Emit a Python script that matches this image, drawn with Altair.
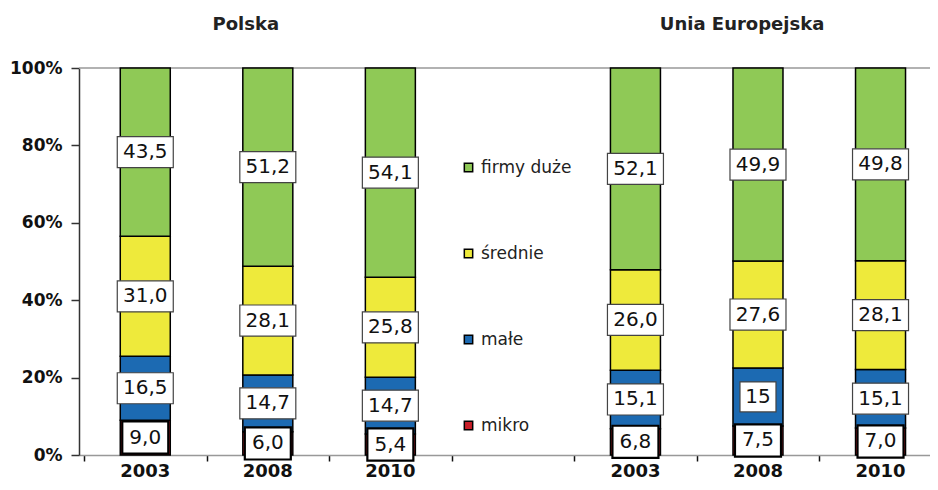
import altair as alt
import pandas as pd

# x slots (slot index 3 is an empty gap where the legend sits)
bar_slot_index = [0, 1, 2, 4, 5, 6]
year_labels = ["2003", "2008", "2010", "2003", "2008", "2010"]
categories = ["mikro", "małe", "średnie", "firmy duże"]          # bottom -> top
legend_order = ["firmy duże", "średnie", "małe", "mikro"]
colors = ["#8FC956", "#EEEA3B", "#1C6AB2", "#C81E28"]              # in legend_order

mikro = [9.0, 6.0, 5.4, 6.8, 7.5, 7.0]
male = [16.5, 14.7, 14.7, 15.1, 15.0, 15.1]
srednie = [31.0, 28.1, 25.8, 26.0, 27.6, 28.1]
duze = [43.5, 51.2, 54.1, 52.1, 49.9, 49.8]

mikro_txt = ["9,0", "6,0", "5,4", "6,8", "7,5", "7,0"]
male_txt = ["16,5", "14,7", "14,7", "15,1", "15", "15,1"]
srednie_txt = ["31,0", "28,1", "25,8", "26,0", "27,6", "28,1"]
duze_txt = ["43,5", "51,2", "54,1", "52,1", "49,9", "49,8"]

group_titles = ["Polska", "Unia Europejska"]

values = [mikro, male, srednie, duze]
texts = [mikro_txt, male_txt, srednie_txt, duze_txt]

rows = []
for i, s in enumerate(bar_slot_index):
    base = 0.0
    for k, cat in enumerate(categories):
        v = values[k][i]
        rows.append({"pos": s + 0.5, "cat": cat, "ord": k, "value": v,
                     "lo": base, "hi": base + v, "mid": base + v / 2,
                     "label": texts[k][i]})
        base += v
df = pd.DataFrame(rows)
years_df = pd.DataFrame({"pos": [s + 0.5 for s in bar_slot_index], "year": year_labels})
titles_df = pd.DataFrame({"pos": [1.32, 5.37], "t": group_titles})

W, H = 851, 387
SLOT_PX = 124
xscale = alt.Scale(domain=[0, W / SLOT_PX], nice=False, zero=False)
yscale = alt.Scale(domain=[0, 100], nice=False)

FONT = "DejaVu Sans"

xaxis = alt.Axis(title=None, values=[0, 1, 2, 3, 4, 5, 6], labels=False, grid=False,
                 domainColor="#999999", domainWidth=1.5,
                 tickColor="#111111", tickSize=6, tickWidth=1.5)
yaxis = alt.Axis(title=None, values=[0, 20, 40, 60, 80, 100], grid=False,
                 labelExpr="datum.value + '%'",
                 labelFont=FONT, labelFontWeight="bold", labelFontSize=17,
                 labelColor="#111111", domainColor="#333333", domainWidth=1.5,
                 tickColor="#333333", tickSize=8, tickWidth=1.5, labelPadding=9)

X = alt.X("pos:Q", scale=xscale, axis=xaxis)

bars = alt.Chart(df).mark_bar(size=50, stroke="black", strokeWidth=1.5).encode(
    x=X,
    y=alt.Y("lo:Q", scale=yscale, axis=yaxis),
    y2="hi:Q",
    color=alt.Color("cat:N",
                    scale=alt.Scale(domain=legend_order, range=colors),
                    legend=alt.Legend(orient="none", legendX=381, legendY=91,
                                      title=None, symbolType="square",
                                      symbolSize=70, symbolStrokeColor="black",
                                      symbolStrokeWidth=1.5, symbolOpacity=1,
                                      labelFont=FONT, labelFontSize=17,
                                      labelColor="#222222", rowPadding=68,
                                      labelOffset=4, padding=0)),
)

top_rule = alt.Chart(pd.DataFrame({"lo": [100]})).mark_rule(
    color="#999999", strokeWidth=1.5).encode(y=alt.Y("lo:Q", scale=yscale, axis=yaxis))

box4 = "M-1,-0.554H1V0.554H-1Z"
box2 = "M-1,-0.833H1V0.833H-1Z"
boxm = "M-1,-0.7H1V0.7H-1Z"

base_lbl = alt.Chart(df).encode(
    x=X,
    y=alt.Y("mid:Q", scale=yscale, axis=yaxis),
)

boxes_main = base_lbl.transform_filter(
    "datum.cat != 'mikro' && length(datum.label) > 2").mark_point(
    shape=box4, size=3136, filled=True, fill="white", fillOpacity=1, opacity=1,
    stroke="#444444", strokeWidth=1.2)
boxes_short = base_lbl.transform_filter(
    "datum.cat != 'mikro' && length(datum.label) <= 2").mark_point(
    shape=box2, size=1296, filled=True, fill="white", fillOpacity=1, opacity=1,
    stroke="#444444", strokeWidth=1.2)
boxes_mikro = base_lbl.transform_filter("datum.cat == 'mikro'").mark_point(
    shape=boxm, size=2116, filled=True, fill="white", fillOpacity=1, opacity=1,
    stroke="black", strokeWidth=2.2)

labels = base_lbl.mark_text(font=FONT, fontSize=20, color="#111111",
                            baseline="middle").encode(text="label:N")

year_text = alt.Chart(years_df).mark_text(
    font=FONT, fontSize=18, fontWeight="bold", color="#111111", baseline="middle").encode(
    x=X, y=alt.value(H + 17), text="year:N")

titles = alt.Chart(titles_df).mark_text(
    font=FONT, fontSize=18, fontWeight="bold", color="#222222", baseline="middle").encode(
    x=X, y=alt.value(-43), text="t:N")

chart = alt.layer(top_rule, bars, boxes_main, boxes_short, boxes_mikro, labels,
                  year_text, titles).properties(
    width=W, height=H,
    autosize=alt.AutoSizeParams(type="none"),
    padding={"left": 71, "top": 60, "right": 0, "bottom": 30},
).configure_view(stroke=None)

chart.save("out.html", embed_options={"renderer": "svg", "actions": False})
